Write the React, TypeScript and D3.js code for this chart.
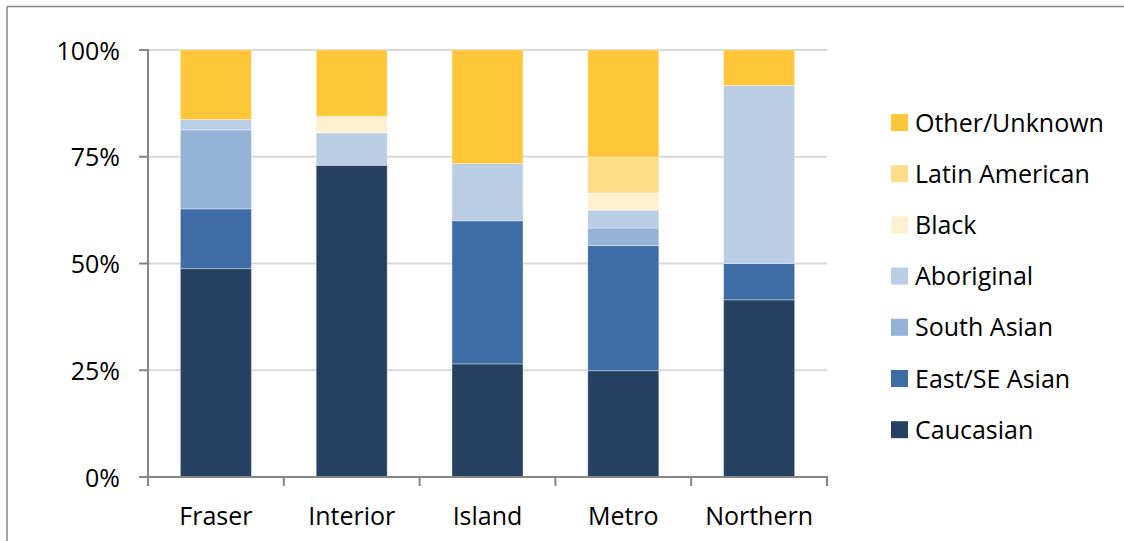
import React from "react";
import * as d3 from "d3";

// Regions along the x axis
const regions = ["Fraser", "Interior", "Island", "Metro", "Northern"];

// Ethnic groups, stacked bottom to top
const groups = [
  "Caucasian",
  "East/SE Asian",
  "South Asian",
  "Aboriginal",
  "Black",
  "Latin American",
  "Other/Unknown",
];

// Share (%) of each group per region, in the order of `regions`
const caucasian = [48.8, 73.0, 26.5, 24.9, 41.5];
const eastSeAsian = [14.0, 0, 33.5, 29.3, 8.5];
const southAsian = [18.5, 0, 0, 4.1, 0];
const aboriginal = [2.4, 7.6, 13.4, 4.2, 41.7];
const black = [0, 3.9, 0, 4.0, 0];
const latinAmerican = [0, 0, 0, 8.4, 0];
const otherUnknown = [16.3, 15.5, 26.6, 25.1, 8.3];

const groupColors = [
  "#264061",
  "#3E6DA6",
  "#95B3D7",
  "#B9CDE5",
  "#FFF0D0",
  "#FEDC88",
  "#FFC63A",
];

const yTicks = [0, 25, 50, 75, 100];
const yTickLabels = ["0%", "25%", "50%", "75%", "100%"];

const seriesValues = [
  caucasian,
  eastSeAsian,
  southAsian,
  aboriginal,
  black,
  latinAmerican,
  otherUnknown,
];

const rows = regions.map((region, i) => {
  const row: Record<string, any> = { region };
  groups.forEach((g, k) => {
    row[g] = seriesValues[k][i];
  });
  return row;
});

const FONT = "'Open Sans', 'Noto Sans', sans-serif";
const FS = 25;

export default function App() {
  const width = 1124;
  const height = 541;
  const left = 148;
  const right = 827;
  const top = 50;
  const bottom = 477;

  const x = d3
    .scaleBand<string>()
    .domain(regions)
    .range([left, right])
    .paddingInner(0.477)
    .paddingOuter(0.2385);

  const y = d3.scaleLinear().domain([0, 100]).range([bottom, top]);

  const stacked = d3.stack<Record<string, any>>().keys(groups)(rows);

  const step = x.step();
  const catEdges = d3.range(regions.length + 1).map((i) => left + i * step);

  const legendX = 891;
  const legendY0 = 122.5;
  const legendStep = 51.2;
  const sq = 17;

  return (
    <svg
      width={width}
      height={height}
      style={{ position: "absolute", left: 0, top: 0, background: "#fff" }}
      fontFamily={FONT}
    >
      <rect x={0} y={0} width={width} height={height} fill="#fff" />
      {/* outer frame */}
      <line x1={7} y1={6.5} x2={width} y2={6.5} stroke="#868686" strokeWidth={1.5} />
      <line x1={7} y1={6.5} x2={7} y2={height} stroke="#868686" strokeWidth={1.5} />

      {/* gridlines */}
      {yTicks
        .filter((t) => t > 0)
        .map((t) => (
          <line
            key={"g" + t}
            x1={left}
            x2={right}
            y1={y(t)}
            y2={y(t)}
            stroke="#D9D9D9"
            strokeWidth={2}
          />
        ))}

      {/* stacked bars */}
      {stacked.map((layer, k) => (
        <g key={groups[k]} fill={groupColors[k]}>
          {layer.map((d, i) =>
            d[1] - d[0] > 0 ? (
              <rect
                key={i}
                x={x(regions[i])}
                width={x.bandwidth()}
                y={y(d[1])}
                height={y(d[0]) - y(d[1])}
                stroke="#ffffff"
                strokeOpacity={0.35}
                strokeWidth={1}
              />
            ) : null
          )}
        </g>
      ))}

      {/* y axis */}
      <line x1={left} x2={left} y1={top - 1} y2={bottom} stroke="#868686" strokeWidth={2} />
      {yTicks.map((t, i) => (
        <g key={"y" + t}>
          <line x1={139} x2={left} y1={y(t)} y2={y(t)} stroke="#868686" strokeWidth={2} />
          <text x={120} y={y(t) + 9.5} textAnchor="end" fontSize={FS} fill="#000">
            {yTickLabels[i]}
          </text>
        </g>
      ))}

      {/* x axis */}
      <line x1={left - 1} x2={right + 1} y1={bottom} y2={bottom} stroke="#868686" strokeWidth={2} />
      {catEdges.map((cx, i) => (
        <line key={"xt" + i} x1={cx} x2={cx} y1={bottom} y2={486} stroke="#868686" strokeWidth={2} />
      ))}
      {regions.map((r) => (
        <text
          key={"xl" + r}
          x={(x(r) as number) + x.bandwidth() / 2}
          y={525}
          textAnchor="middle"
          fontSize={FS}
          fill="#000"
        >
          {r}
        </text>
      ))}

      {/* legend, top entry is the topmost stack layer */}
      {groups
        .slice()
        .reverse()
        .map((g, i) => {
          const k = groups.length - 1 - i;
          const cy = legendY0 + i * legendStep;
          return (
            <g key={"lg" + g}>
              <rect x={legendX} y={cy - sq / 2} width={sq} height={sq} fill={groupColors[k]} />
              <text x={915} y={cy + 9} fontSize={FS} fill="#000">
                {g}
              </text>
            </g>
          );
        })}
    </svg>
  );
}
